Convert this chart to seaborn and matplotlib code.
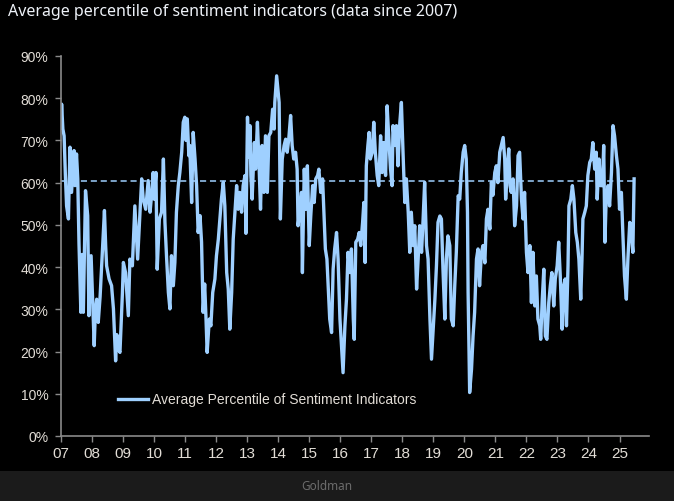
import numpy as np
import pandas as pd
import seaborn as sns
import matplotlib.pyplot as plt
from matplotlib.patches import Rectangle

# average percentile readings (decimal year, %)
years_07_09 = [2007.00, 2007.02, 2007.06, 2007.10, 2007.14, 2007.18, 2007.24, 2007.29, 2007.34, 2007.42,
               2007.45, 2007.50, 2007.54, 2007.58, 2007.64, 2007.68, 2007.72, 2007.79, 2007.86, 2007.90,
               2007.97, 2008.01, 2008.07, 2008.11, 2008.15, 2008.20, 2008.26, 2008.31, 2008.40, 2008.44,
               2008.47, 2008.55, 2008.63, 2008.69, 2008.76, 2008.80, 2008.85, 2008.90, 2008.98, 2009.01,
               2009.08, 2009.13, 2009.17, 2009.22, 2009.30, 2009.38, 2009.47, 2009.54, 2009.60, 2009.65,
               2009.73, 2009.81, 2009.87, 2009.93, 2009.97]
pct_07_09 = [73.0, 78.6, 72.7, 71.1, 62.0, 54.5, 51.4, 68.4, 57.7, 67.6,
             59.3, 66.8, 60.9, 45.5, 29.3, 43.0, 29.3, 58.1, 52.2, 28.5,
             42.7, 34.0, 21.4, 30.0, 32.4, 26.9, 33.0, 40.3, 53.4, 45.0,
             40.3, 37.2, 35.6, 30.1, 17.8, 24.0, 20.6, 19.8, 34.0, 41.1,
             38.7, 33.0, 28.5, 41.9, 40.3, 54.5, 41.9, 52.2, 60.9, 56.1,
             53.7, 60.5, 53.0, 58.0, 62.4]

years_10_12 = [2010.00, 2010.06, 2010.10, 2010.17, 2010.24, 2010.30, 2010.35, 2010.40, 2010.46, 2010.51,
               2010.56, 2010.62, 2010.67, 2010.72, 2010.78, 2010.83, 2010.89, 2010.94, 2010.99, 2011.03,
               2011.07, 2011.12, 2011.15, 2011.21, 2011.26, 2011.32, 2011.37, 2011.42, 2011.48, 2011.53,
               2011.58, 2011.63, 2011.67, 2011.71, 2011.78, 2011.83, 2011.89, 2011.96, 2012.01, 2012.07,
               2012.12, 2012.17, 2012.23, 2012.28, 2012.34, 2012.39, 2012.44, 2012.50, 2012.55, 2012.60,
               2012.66, 2012.71, 2012.76, 2012.82, 2012.87, 2012.93, 2012.96]
pct_10_12 = [56.1, 62.4, 39.5, 51.4, 53.0, 65.6, 50.6, 42.7, 34.0, 30.1,
             42.7, 35.6, 41.1, 53.0, 59.3, 62.4, 67.2, 74.3, 75.5, 70.0,
             75.1, 66.4, 68.8, 55.3, 71.9, 65.6, 59.3, 48.2, 52.2, 45.9,
             29.3, 36.0, 28.5, 19.8, 27.7, 26.1, 34.0, 37.2, 42.7, 46.6,
             51.4, 56.1, 60.1, 54.5, 38.7, 34.8, 25.3, 34.0, 46.6, 52.2,
             59.3, 53.7, 57.7, 53.0, 59.3, 61.7, 48.0]

years_13_15 = [2013.01, 2013.05, 2013.09, 2013.12, 2013.16, 2013.23, 2013.27, 2013.33, 2013.38, 2013.43,
               2013.48, 2013.54, 2013.59, 2013.65, 2013.70, 2013.76, 2013.82, 2013.87, 2013.89, 2013.95,
               2014.00, 2014.03, 2014.07, 2014.13, 2014.19, 2014.24, 2014.29, 2014.34, 2014.40, 2014.45,
               2014.50, 2014.56, 2014.61, 2014.64, 2014.70, 2014.75, 2014.78, 2014.84, 2014.89, 2014.94,
               2015.00, 2015.05, 2015.11, 2015.16, 2015.21, 2015.27, 2015.31, 2015.37, 2015.43, 2015.48,
               2015.52, 2015.57, 2015.61, 2015.66, 2015.72, 2015.77, 2015.82, 2015.88, 2015.93, 2015.99,
               2016.04, 2016.09]
pct_13_15 = [75.5, 66.0, 73.5, 61.7, 56.1, 69.5, 63.2, 74.3, 64.8, 53.7,
             68.8, 57.7, 71.1, 57.7, 71.1, 71.9, 77.4, 72.7, 79.0, 85.3,
             81.4, 79.0, 51.4, 65.6, 68.8, 70.3, 67.2, 70.3, 75.9, 68.8,
             65.6, 67.2, 63.2, 49.8, 53.7, 57.7, 38.7, 63.2, 53.7, 64.0,
             45.1, 52.2, 59.3, 55.3, 60.9, 61.7, 63.2, 57.7, 60.9, 51.4,
             44.3, 41.9, 35.6, 27.7, 24.5, 39.5, 44.3, 48.2, 41.9, 27.7,
             21.4, 15.0]

years_16_18 = [2016.15, 2016.20, 2016.25, 2016.31, 2016.36, 2016.42, 2016.45, 2016.50, 2016.56, 2016.61,
               2016.66, 2016.72, 2016.76, 2016.80, 2016.84, 2016.89, 2016.93, 2016.97, 2017.03, 2017.08,
               2017.13, 2017.19, 2017.24, 2017.30, 2017.35, 2017.40, 2017.46, 2017.51, 2017.56, 2017.62,
               2017.67, 2017.70, 2017.76, 2017.81, 2017.86, 2017.92, 2017.97, 2018.03, 2018.08, 2018.13,
               2018.19, 2018.24, 2018.29, 2018.35, 2018.40, 2018.46, 2018.51, 2018.56, 2018.62, 2018.67,
               2018.72, 2018.78, 2018.83, 2018.89, 2018.94, 2018.99, 2019.05, 2019.10, 2019.15]
pct_16_18 = [26.1, 32.4, 43.5, 38.7, 44.3, 27.7, 22.9, 45.9, 46.6, 48.2,
             45.1, 50.6, 55.3, 41.1, 64.0, 68.8, 71.9, 65.6, 67.2, 74.3,
             67.2, 61.7, 59.3, 71.1, 62.4, 69.5, 61.7, 78.2, 71.1, 63.2,
             59.3, 73.5, 68.8, 73.5, 64.0, 74.3, 79.0, 65.6, 55.3, 60.9,
             53.0, 43.5, 53.0, 45.1, 49.8, 34.8, 41.9, 49.8, 43.5, 51.4,
             60.1, 45.1, 41.9, 27.7, 18.2, 24.5, 32.4, 40.3, 50.6]

years_19_21 = [2019.21, 2019.26, 2019.31, 2019.37, 2019.42, 2019.47, 2019.53, 2019.58, 2019.64, 2019.69,
               2019.74, 2019.80, 2019.85, 2019.90, 2019.96, 2020.01, 2020.06, 2020.10, 2020.12, 2020.17,
               2020.23, 2020.28, 2020.33, 2020.39, 2020.44, 2020.49, 2020.55, 2020.60, 2020.66, 2020.71,
               2020.76, 2020.82, 2020.87, 2020.92, 2020.98, 2021.03, 2021.08, 2021.14, 2021.19, 2021.25,
               2021.30, 2021.33, 2021.39, 2021.43, 2021.47, 2021.51, 2021.57, 2021.62, 2021.68, 2021.73,
               2021.78, 2021.84, 2021.89, 2021.94, 2022.00, 2022.05, 2022.11, 2022.16, 2022.21]
pct_19_21 = [52.1, 51.4, 39.5, 27.7, 41.9, 47.4, 45.1, 27.7, 26.1, 35.6,
             43.5, 56.9, 56.1, 62.4, 67.2, 68.8, 65.6, 53.0, 34.0, 10.3,
             15.8, 23.7, 29.3, 41.9, 44.3, 35.6, 43.5, 45.1, 41.0, 51.4,
             53.7, 49.0, 60.1, 57.0, 62.4, 64.0, 60.0, 67.2, 68.8, 70.7,
             65.6, 56.1, 64.0, 68.0, 59.3, 57.7, 60.9, 49.8, 54.5, 66.4,
             67.2, 56.1, 51.4, 57.7, 43.5, 38.7, 45.1, 31.6, 43.5]

years_22_25 = [2022.27, 2022.32, 2022.37, 2022.43, 2022.46, 2022.51, 2022.56, 2022.61, 2022.66, 2022.72,
               2022.77, 2022.82, 2022.88, 2022.93, 2022.99, 2023.04, 2023.09, 2023.15, 2023.20, 2023.25,
               2023.29, 2023.34, 2023.37, 2023.43, 2023.48, 2023.53, 2023.59, 2023.64, 2023.69, 2023.75,
               2023.79, 2023.82, 2023.88, 2023.93, 2023.98, 2024.04, 2024.09, 2024.14, 2024.20, 2024.25,
               2024.28, 2024.34, 2024.39, 2024.45, 2024.49, 2024.53, 2024.57, 2024.63, 2024.68, 2024.74,
               2024.79, 2024.84, 2024.90, 2024.95, 2025.00, 2025.06, 2025.11, 2025.16, 2025.22, 2025.27,
               2025.33, 2025.38, 2025.43, 2025.47]
pct_22_25 = [30.8, 37.9, 27.7, 26.1, 22.9, 32.4, 39.5, 23.7, 22.9, 31.6,
             35.6, 38.7, 30.8, 37.2, 40.3, 45.9, 37.9, 25.3, 35.6, 37.2,
             26.1, 40.3, 54.5, 56.1, 59.3, 56.1, 48.2, 45.9, 41.9, 32.4,
             41.9, 51.4, 53.0, 54.5, 61.7, 64.8, 65.6, 69.5, 63.2, 67.2,
             56.1, 65.6, 59.3, 59.3, 68.8, 45.9, 56.1, 59.3, 54.5, 62.4,
             73.5, 71.1, 66.4, 63.2, 53.7, 57.7, 47.4, 37.9, 32.4, 41.9,
             50.6, 48.2, 43.5, 60.9]

avg_level = 60.5
year_ticks = list(range(2007, 2026))
year_labels = [f"{y % 100:02d}" for y in year_ticks]
pct_ticks = list(range(0, 100, 10))
pct_labels = [f"{p}%" for p in pct_ticks]

df = pd.DataFrame({
    "year": years_07_09 + years_10_12 + years_13_15 + years_16_18 + years_19_21 + years_22_25,
    "pct": pct_07_09 + pct_10_12 + pct_13_15 + pct_16_18 + pct_19_21 + pct_22_25,
})

line_col = "#9fd0ff"
text_col = "#e2ddd6"
axis_col = "#8a8a8a"

plt.rcParams["font.family"] = ["Liberation Sans", "DejaVu Sans"]

fig = plt.figure(figsize=(6.74, 5.02), dpi=100, facecolor="black")
ax = fig.add_axes([61 / 674, 1 - 437 / 502, 588 / 674, 380 / 502])
ax.set_facecolor("black")

# footer strip
fig.patches.append(Rectangle((0, 0), 1, 30 / 502, transform=fig.transFigure,
                             facecolor="#1b1b1b", edgecolor="none", zorder=0))

sns.lineplot(data=df, x="year", y="pct", ax=ax, color=line_col, linewidth=2.4,
             label="Average Percentile of Sentiment Indicators")
ax.hlines(avg_level, df["year"].iloc[0], df["year"].iloc[-1], colors=line_col,
          linestyles=(0, (4, 2.5)), linewidth=1.1)

ax.set_xlim(2007, 2025.95)
ax.set_ylim(0, 90)
ax.set_xticks(year_ticks)
ax.set_xticklabels(year_labels)
ax.set_yticks(pct_ticks)
ax.set_yticklabels(pct_labels)
ax.set_xlabel("")
ax.set_ylabel("")
ax.tick_params(axis="x", colors=axis_col, labelcolor=text_col, labelsize=11, length=4, width=1, pad=3)
ax.tick_params(axis="y", colors=axis_col, labelcolor=text_col, labelsize=10, length=4, width=1, pad=5)
for side in ["top", "right"]:
    ax.spines[side].set_visible(False)
for side in ["left", "bottom"]:
    ax.spines[side].set_color(axis_col)
    ax.spines[side].set_linewidth(1.2)

leg = ax.legend(loc="lower left", bbox_to_anchor=(0.075, 0.045), frameon=False,
                fontsize=10, handlelength=2.2, handletextpad=0.3)
for t in leg.get_texts():
    t.set_color(text_col)

fig.text(8 / 674, 1 - 12 / 502, "Average percentile of sentiment indicators (data since 2007)",
         color="#eef2f8", fontsize=11.5, va="center", ha="left",
         family=["Noto Sans", "DejaVu Sans"], fontstretch="condensed")
fig.text(327 / 674, 1 - 487 / 502, "Goldman", color="#6c6c6c", fontsize=8.5,
         ha="center", va="center", family=["Noto Sans", "DejaVu Sans"])

fig.savefig("out.png", dpi=100, facecolor=fig.get_facecolor())
